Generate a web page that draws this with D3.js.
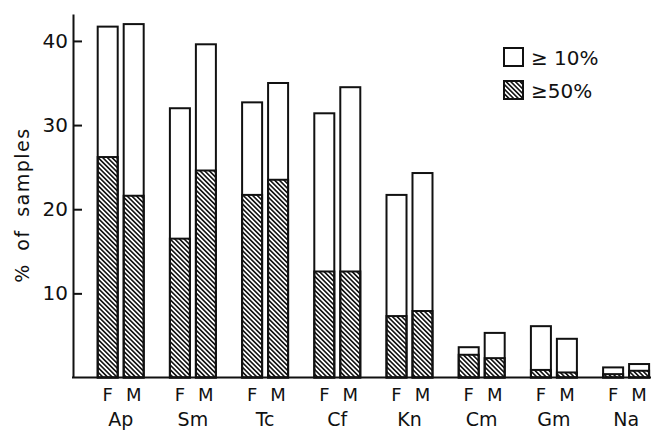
<!DOCTYPE html>
<html>
<head>
<meta charset="utf-8">
<script src="https://cdn.jsdelivr.net/npm/d3@7/dist/d3.min.js"></script>
<style>
  body { margin: 0; background: #fff; }
  text { font-family: "DejaVu Sans", Arial, sans-serif; fill: #111; }
</style>
</head>
<body>
<div id="chart"></div>
<script>
// species groups and sex within each group
const groups = ['Ap', 'Sm', 'Tc', 'Cf', 'Kn', 'Cm', 'Gm', 'Na'];
const sexes = ['F', 'M'];

// % of samples with >= 10 % (whole bar) and >= 50 % (hatched part)
const pct10F = [41.7, 32.0, 32.7, 31.4, 21.7, 3.6, 6.1, 1.2];
const pct10M = [42.0, 39.6, 35.0, 34.5, 24.3, 5.3, 4.6, 1.6];
const pct50F = [26.2, 16.5, 21.7, 12.6, 7.3, 2.7, 0.9, 0.4];
const pct50M = [21.6, 24.6, 23.5, 12.6, 7.9, 2.3, 0.6, 0.8];

const yTicks = [10, 20, 30, 40];
const legendLabels = ['\u2265 10%', '\u226550%'];

const width = 653;
const height = 431;

const svg = d3.select('#chart')
  .append('svg')
  .attr('width', width)
  .attr('height', height);

// hatch pattern, lines running top-left to bottom-right
const defs = svg.append('defs');
defs.append('pattern')
  .attr('id', 'hatch')
  .attr('patternUnits', 'userSpaceOnUse')
  .attr('width', 3.3)
  .attr('height', 3.3)
  .attr('patternTransform', 'rotate(-45)')
  .append('rect')
  .attr('x', 0)
  .attr('y', 0)
  .attr('width', 1.6)
  .attr('height', 3.3)
  .attr('fill', '#111');

const rows = [];
groups.forEach((g, i) => {
  rows.push({ group: g, sex: 'F', p10: pct10F[i], p50: pct50F[i] });
  rows.push({ group: g, sex: 'M', p10: pct10M[i], p50: pct50M[i] });
});

const x0 = d3.scaleBand()
  .domain(groups)
  .range([97.7, 649.1])
  .paddingInner(0.363)
  .paddingOuter(0);

const x1 = d3.scaleBand()
  .domain(sexes)
  .range([0, x0.bandwidth()])
  .paddingInner(0.23);

const y = d3.scaleLinear().domain([0, 43.2]).range([377.5, 14]);

// y axis, ticks pointing into the plot
const yAxis = svg.append('g')
  .attr('transform', 'translate(73,0)')
  .call(
    d3.axisLeft(y)
      .tickValues(yTicks)
      .tickSizeInner(-9)
      .tickSizeOuter(0)
      .tickPadding(5),
  );
yAxis.select('.domain').attr('stroke', '#111').attr('stroke-width', 2);
yAxis.selectAll('.tick line').attr('stroke', '#111').attr('stroke-width', 2);
yAxis.selectAll('.tick text')
  .style('font-family', '"DejaVu Sans", Arial, sans-serif')
  .style('font-size', '20px')
  .attr('fill', '#111');

svg.append('text')
  .attr('transform', `translate(29,${y(20.5)}) rotate(-90)`)
  .attr('text-anchor', 'middle')
  .style('font-size', '19px')
  .style('letter-spacing', '1.5px')
  .style('word-spacing', '5px')
  .text('% of samples');

// bars
const bars = svg.append('g');
bars.selectAll('rect.total')
  .data(rows)
  .enter()
  .append('rect')
  .attr('class', 'total')
  .attr('x', (d) => x0(d.group) + x1(d.sex))
  .attr('y', (d) => y(d.p10))
  .attr('width', x1.bandwidth())
  .attr('height', (d) => y(0) - y(d.p10))
  .attr('fill', '#fff')
  .attr('stroke', '#111')
  .attr('stroke-width', 2);

bars.selectAll('rect.half')
  .data(rows)
  .enter()
  .append('rect')
  .attr('class', 'half')
  .attr('x', (d) => x0(d.group) + x1(d.sex))
  .attr('y', (d) => y(d.p50))
  .attr('width', x1.bandwidth())
  .attr('height', (d) => y(0) - y(d.p50))
  .attr('fill', 'url(#hatch)')
  .attr('stroke', '#111')
  .attr('stroke-width', 2);

// baseline
svg.append('line')
  .attr('x1', 72)
  .attr('x2', 651)
  .attr('y1', y(0))
  .attr('y2', y(0))
  .attr('stroke', '#111')
  .attr('stroke-width', 2);

// F / M labels and group names
svg.append('g')
  .selectAll('text')
  .data(rows)
  .enter()
  .append('text')
  .attr('x', (d) => x0(d.group) + x1(d.sex) + x1.bandwidth() / 2)
  .attr('y', 401)
  .attr('text-anchor', 'middle')
  .style('font-size', '18px')
  .text((d) => d.sex);

svg.append('g')
  .selectAll('text')
  .data(groups)
  .enter()
  .append('text')
  .attr('x', (d) => x0(d) + x0.bandwidth() / 2)
  .attr('y', 426)
  .attr('text-anchor', 'middle')
  .style('font-size', '19px')
  .text((d) => d);

// legend
const legend = svg.append('g').attr('transform', 'translate(504,48)');
legend.selectAll('rect')
  .data(legendLabels)
  .enter()
  .append('rect')
  .attr('x', 0)
  .attr('y', (d, i) => i * 33)
  .attr('width', 19)
  .attr('height', 18)
  .attr('fill', (d, i) => (i === 0 ? '#fff' : 'url(#hatch)'))
  .attr('stroke', '#111')
  .attr('stroke-width', 2);
legend.selectAll('text')
  .data(legendLabels)
  .enter()
  .append('text')
  .attr('x', 27)
  .attr('y', (d, i) => i * 33 + 17)
  .style('font-size', '20px')
  .text((d) => d);
</script>
</body>
</html>
